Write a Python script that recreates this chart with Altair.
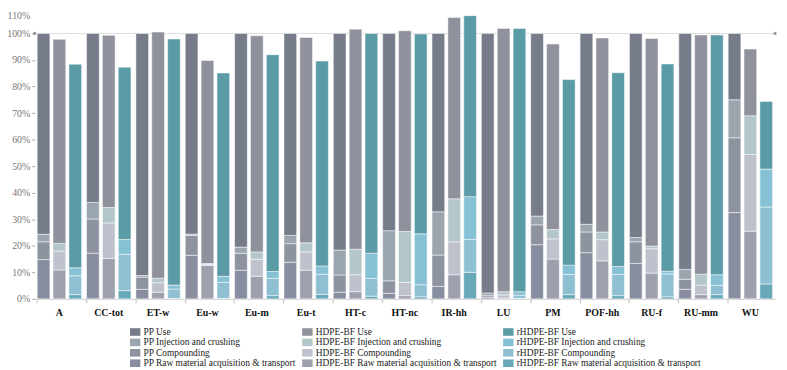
import altair as alt
import pandas as pd

categories = ["A", "CC-tot", "ET-w", "Eu-w", "Eu-m", "Eu-t", "HT-c", "HT-nc",
              "IR-hh", "LU", "PM", "POF-hh", "RU-f", "RU-mm", "WU"]
series_names = ["PP", "HDPE-BF", "rHDPE-BF"]
stages = ["Raw material acquisition & transport", "Compounding",
          "Injection and crushing", "Use"]

# values in % (bottom to top: raw, compounding, injection, use)
pp_raw = [14.8, 17.2, 3.6, 16.4, 10.8, 13.8, 2.5, 2.1, 4.7, 0.6, 20.4, 17.4, 13.3, 3.6, 32.5]
pp_comp = [6.7, 12.9, 4.6, 7.5, 6.4, 7.0, 6.5, 4.7, 11.8, 0.6, 7.5, 7.8, 8.2, 3.8, 28.2]
pp_inj = [2.8, 6.2, 0.6, 0.5, 2.3, 3.1, 9.4, 18.9, 16.3, 1.0, 3.3, 2.9, 1.6, 3.7, 14.3]
pp_use = [75.7, 63.7, 91.2, 75.6, 80.5, 76.1, 81.6, 74.3, 67.2, 97.8, 68.8, 71.9, 76.9, 88.9, 25.0]

hd_raw = [10.9, 15.2, 2.5, 12.6, 8.5, 10.8, 2.7, 1.2, 9.1, 0.3, 15.0, 14.3, 9.7, 1.6, 25.5]
hd_comp = [7.1, 13.4, 3.6, 0.3, 6.4, 6.9, 6.4, 5.0, 12.4, 1.2, 7.6, 8.0, 9.2, 3.6, 28.9]
hd_inj = [2.9, 5.8, 1.7, 0.4, 2.8, 3.4, 9.6, 19.2, 16.2, 1.2, 3.5, 2.9, 1.0, 4.1, 14.6]
hd_use = [76.9, 64.9, 92.7, 76.5, 81.4, 77.4, 82.9, 75.6, 68.3, 99.2, 69.9, 73.1, 78.2, 90.1, 25.1]

rh_raw = [1.6, 3.1, 0.2, 0.2, 1.2, 1.7, 1.0, 0.8, 10.0, 0.2, 1.6, 1.2, 0.8, 1.6, 5.6]
rh_comp = [7.1, 13.7, 3.5, 6.0, 6.5, 7.6, 6.7, 4.5, 12.4, 1.2, 7.6, 8.0, 8.6, 3.5, 29.0]
rh_inj = [3.0, 5.6, 1.5, 2.3, 2.6, 3.1, 9.5, 19.2, 16.1, 1.3, 3.5, 3.0, 1.0, 4.0, 14.3]
rh_use = [76.7, 64.9, 92.7, 76.6, 81.7, 77.2, 82.8, 75.3, 68.2, 99.2, 69.9, 73.0, 78.1, 90.3, 25.5]

series_data = {
    "PP": [pp_raw, pp_comp, pp_inj, pp_use],
    "HDPE-BF": [hd_raw, hd_comp, hd_inj, hd_use],
    "rHDPE-BF": [rh_raw, rh_comp, rh_inj, rh_use],
}

colors = {
    "PP Use": "#767c8a",
    "PP Injection and crushing": "#9ba5ae",
    "PP Compounding": "#8e93a0",
    "PP Raw material acquisition & transport": "#888ea0",
    "HDPE-BF Use": "#8f919d",
    "HDPE-BF Injection and crushing": "#b3c7cb",
    "HDPE-BF Compounding": "#bfc2cc",
    "HDPE-BF Raw material acquisition & transport": "#9da0ad",
    "rHDPE-BF Use": "#5b9ba6",
    "rHDPE-BF Injection and crushing": "#86c1d6",
    "rHDPE-BF Compounding": "#8fc0d1",
    "rHDPE-BF Raw material acquisition & transport": "#68a8b8",
}

rows = []
for s in series_names:
    for si, st in enumerate(stages):
        vals = series_data[s][si]
        for ci, c in enumerate(categories):
            rows.append({"category": c, "series": s, "stage": st, "stage_idx": si,
                         "key": f"{s} {st}", "value": vals[ci] / 100.0})
df = pd.DataFrame(rows)

# legend is filled column by column: one column per material
legend_order = []
for s in series_names:
    for st in ["Use", "Injection and crushing", "Compounding",
               "Raw material acquisition & transport"]:
        legend_order.append(f"{s} {st}")
legend_colors = [colors[k] for k in legend_order]

W, H = 748, 295
FONT = "Liberation Serif"

yscale = alt.Scale(domain=[0, 1.1], nice=False)


def yaxis():
    return alt.Axis(title=None, format=".0%", values=[i / 10 for i in range(12)],
                    grid=False, domain=False, labelFont=FONT, labelFontSize=10,
                    labelColor="#777", tickColor="#aaa", tickSize=3, labelPadding=2,
                    labelOverlap=False,
                    labelBaseline=alt.condition("datum.value > 1.05", alt.value("top"),
                                                alt.value("middle")),
                    labelOffset=alt.condition("datum.value > 1.05", alt.value(4),
                                              alt.value(0)))


ref = alt.Chart(pd.DataFrame({"v": [1.0]})).mark_rule(color="#dddddd", strokeWidth=1).encode(
    y=alt.Y("v:Q", scale=yscale, axis=yaxis())
)

bars = alt.Chart(df).transform_stack(
    stack="value", groupby=["category", "series"], as_=["y0", "y1"],
    sort=[alt.SortField("stage_idx", order="ascending")]
).mark_bar(stroke="white", strokeWidth=0.5).encode(
    x=alt.X("category:N", sort=categories,
            scale=alt.Scale(paddingInner=0.1, paddingOuter=0.05),
            axis=alt.Axis(title=None, labelAngle=0, labelFont=FONT, labelFontWeight="bold",
                          labelFontSize=10, labelColor="#111", bandPosition=0,
                          tickSize=4, tickColor="#bbb", domainColor="#cccccc",
                          labelPadding=5)),
    xOffset=alt.XOffset("series:N", sort=series_names,
                        scale=alt.Scale(paddingInner=0.2, paddingOuter=0)),
    y=alt.Y("y0:Q", scale=yscale, axis=yaxis()),
    y2="y1:Q",
    color=alt.Color("key:N", scale=alt.Scale(domain=legend_order, range=legend_colors),
                    legend=alt.Legend(title=None, orient="none", legendX=96, legendY=323,
                                      columns=3, symbolType="M-1,-0.73L1,-0.73L1,0.73L-1,0.73Z",
                                      symbolSize=110, symbolStrokeWidth=0, labelFont=FONT,
                                      labelFontSize=9.5, labelColor="#222", rowPadding=0.5,
                                      columnPadding=6, labelOffset=3, labelLimit=300, padding=0)),
)

dots = alt.Chart(pd.DataFrame({"v": [1.0, 1.0], "end": [0, W]})).mark_circle(
    color="#999999", size=10, opacity=1).encode(
    x=alt.X("end:Q", scale=None), y=alt.Y("v:Q", scale=yscale, axis=yaxis())
)

chart = alt.layer(ref, bars, dots).properties(
    width=W, height=H,
    padding={"left": 27, "top": -3, "right": 4, "bottom": 70},
    autosize=alt.AutoSizeParams(type="none"),
).configure_view(stroke=None).configure_axisY(
    labelFont=FONT, labelFontSize=10, labelColor="#777"
).configure_axisX(
    labelFont=FONT, labelFontWeight="bold"
)

chart.save("out.html", embed_options={"renderer": "svg", "actions": False})
